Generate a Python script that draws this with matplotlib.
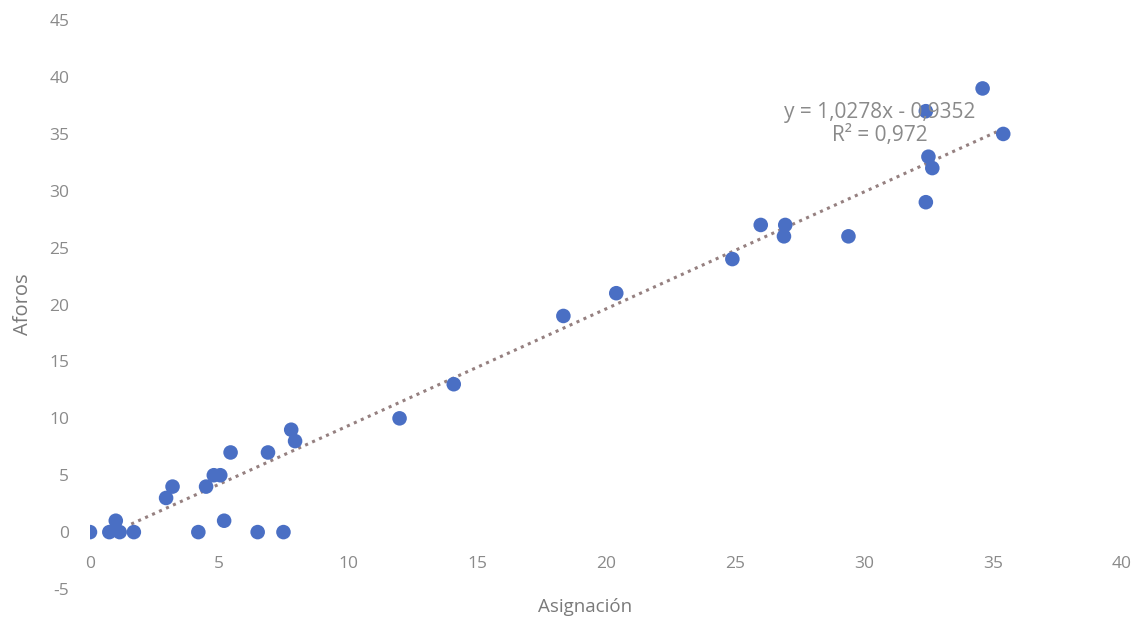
import numpy as np
import matplotlib.pyplot as plt

plt.rcParams['font.family'] = ['Open Sans', 'DejaVu Sans']
plt.rcParams['axes.unicode_minus'] = False

# Asignación vs Aforos
asignacion = [0, 0.75, 1.0, 1.15, 1.7, 2.95, 3.2, 4.2, 4.5, 4.8, 5.05,
              5.2, 5.45, 6.5, 6.9, 7.5, 7.8, 7.95, 12.0, 14.1, 18.35,
              20.4, 24.9, 26.0, 26.95, 26.9, 29.4, 32.4, 32.4, 32.5,
              32.65, 34.6, 35.4]
aforos = [0, 0, 1, 0, 0, 3, 4, 0, 4, 5, 5,
          1, 7, 0, 7, 0, 9, 8, 10, 13, 19,
          21, 24, 27, 27, 26, 26, 29, 37, 33,
          32, 39, 35]

slope, intercept = 1.0278, -0.9352
trend_x = [1.6, 35.5]

fig = plt.figure(figsize=(11.39, 6.23), dpi=100)
ax = fig.add_axes([0.079, 0.0546, 0.906, 0.913])

ax.scatter(asignacion, aforos, s=110, color='#4a6fc4', zorder=3, edgecolors='none')
tx = np.array(trend_x)
ax.plot(tx, slope * tx + intercept, linestyle=(0, (1, 1.5)), color='#958080',
        linewidth=2.2, zorder=2)

ax.text(30.6, 36.9, 'y = 1,0278x - 0,9352', ha='center', va='center',
        fontsize=15, color='#8a8a8a', zorder=4)
ax.text(30.6, 34.9, 'R² = 0,972', ha='center', va='center',
        fontsize=15, color='#8a8a8a', zorder=4)

ax.set_xlim(0, 40)
ax.set_ylim(-5, 45)
ax.set_xticks(np.arange(0, 41, 5))
ax.set_yticks(np.arange(-5, 46, 5))
ax.spines['bottom'].set_position(('data', 0))
for s in ax.spines.values():
    s.set_visible(False)
ax.tick_params(length=0, labelsize=12.5, labelcolor='#8a8a8a')
ax.tick_params(axis='x', pad=17)
ax.tick_params(axis='y', pad=15)

ax.set_xlabel('Asignación', fontsize=13.5, color='#7a7a7a')
ax.set_ylabel('Aforos', fontsize=14.5, color='#7a7a7a')
ax.xaxis.set_label_coords(0.48, -0.016)
ax.yaxis.set_label_coords(-0.055, 0.5)

fig.savefig('out.png', dpi=100)
